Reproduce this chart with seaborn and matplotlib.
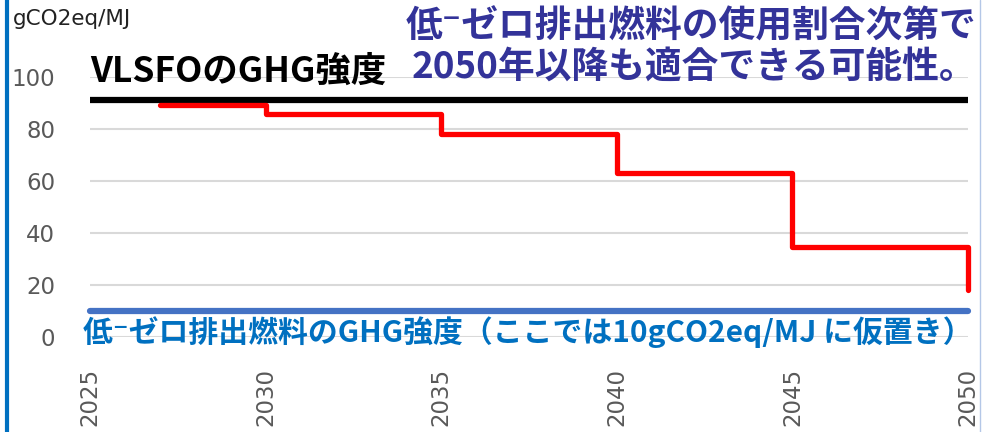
import matplotlib
matplotlib.use("Agg")
import matplotlib.pyplot as plt
import pandas as pd
import seaborn as sns
from matplotlib.lines import Line2D

# GHG intensity limit (steps) and reference lines
years = [2027, 2030, 2035, 2040, 2045, 2050]
limit = [89.34, 85.69, 77.94, 62.90, 34.64, 18.23]
ref_years = [2025, 2050]
vlsfo = [91.16, 91.16]
low_zero = [10, 10]

xticks = [2025, 2030, 2035, 2040, 2045, 2050]
yticks = [0, 20, 40, 60, 80, 100]

sns.set_theme(style="white")
plt.rcParams["font.family"] = ["Noto Sans CJK JP", "DejaVu Sans"]

fig = plt.figure(figsize=(9.82, 4.32), dpi=100)
ax = fig.add_axes([90 / 982, 95 / 432, 878 / 982, 260 / 432])

for y in yticks:
    ax.axhline(y, color="#d9d9d9", lw=1.5, zorder=0)

limit_df = pd.DataFrame({"year": years, "value": limit})
ref_df = pd.DataFrame({"year": ref_years, "vlsfo": vlsfo, "low": low_zero})

sns.lineplot(data=ref_df, x="year", y="vlsfo", color="black", lw=4.5,
             solid_capstyle="butt", ax=ax, zorder=3, clip_on=False)
sns.lineplot(data=ref_df, x="year", y="low", color="#4472C4", lw=4.5,
             solid_capstyle="round", ax=ax, zorder=3, clip_on=False)
sns.lineplot(data=limit_df, x="year", y="value", color="#FF0000", lw=3.8,
             drawstyle="steps-post", solid_joinstyle="round",
             solid_capstyle="round", ax=ax, zorder=4, clip_on=False)

ax.set_xlim(2025, 2050)
ax.set_ylim(0, 100)
ax.set_xticks(xticks)
ax.set_yticks(yticks)
ax.set_xticklabels([str(x) for x in xticks], rotation=90, family="DejaVu Sans")
ax.set_yticklabels([str(y) for y in yticks], family="DejaVu Sans")
ax.tick_params(axis="x", length=0, pad=22, labelsize=16.5, labelcolor="#595959")
ax.tick_params(axis="y", length=0, pad=25, labelsize=16.5, labelcolor="#595959")
ax.set_xlabel("")
ax.set_ylabel("")
for s in ax.spines.values():
    s.set_visible(False)
ax.set_facecolor("none")

fig.text(13 / 982, 1 - 19 / 432, "gCO2eq/MJ", fontsize=15.5, color="#222222",
         va="center", ha="left", family="DejaVu Sans")
ax.text(2025.0, 95.3, "VLSFOのGHG強度", fontsize=25.5, fontweight="bold",
        color="black", va="bottom", ha="left")
ax.text(2024.8, 2, "低⁻ゼロ排出燃料のGHG強度（ここでは10gCO2eq/MJ に仮置き）",
        fontsize=21.5, fontweight="bold", color="#0070C0", va="center", ha="left")
fig.text(976 / 982, 1 - 47 / 432,
         "低⁻ゼロ排出燃料の使用割合次第で\n2050年以降も適合できる可能性。",
         fontsize=26.5, fontweight="bold", color="#333399", ha="right",
         va="center", linespacing=1.08)

fig.add_artist(Line2D([7 / 982, 7 / 982], [0, 1], color="#0070C0", lw=3,
                      transform=fig.transFigure))
fig.add_artist(Line2D([980 / 982, 980 / 982], [0, 1], color="#b4c7e7", lw=1,
                      transform=fig.transFigure))

fig.savefig("out.png", dpi=100)
